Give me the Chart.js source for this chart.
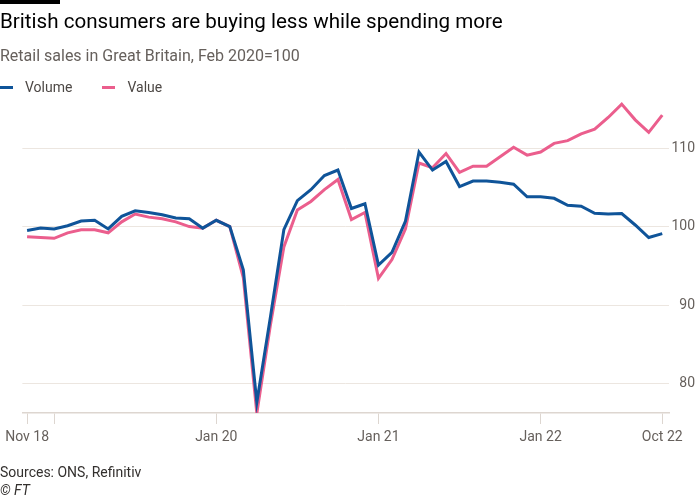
<!DOCTYPE html>
<html>
<head>
<meta charset="utf-8">
<script src="https://cdn.jsdelivr.net/npm/chart.js@4"></script>
<style>
  body { margin: 0; background: #fff; font-family: Roboto, "Liberation Sans", sans-serif; }
  #wrap { position: relative; width: 700px; height: 500px; overflow: hidden; }
  #bar { position: absolute; left: 0; top: 0; width: 60px; height: 4px; background: #000; }
  .txt { position: absolute; left: 0; white-space: nowrap; }
  #title { top: 9px; font-size: 20.6px; color: #000; }
  #sub { top: 46px; font-size: 16px; color: #66605c; }
  #legend { top: 79px; font-size: 14px; color: #4d4845; }
  #legend span.sw { display: inline-block; width: 13px; height: 3px; vertical-align: middle; margin-right: 12px; position: relative; top: -1px; }
  #legend span.it { margin-right: 30px; }
  #src { top: 464px; font-size: 14px; color: #33302e; }
  #ft { top: 482px; font-size: 14px; color: #33302e; font-style: italic; }
  canvas { position: absolute; left: 0; top: 0; }
</style>
</head>
<body>
<div id="wrap">
  <canvas id="chartRetail" width="700" height="500"></canvas>
  <div id="bar"></div>
  <div class="txt" id="title">British consumers are buying less while spending more</div>
  <div class="txt" id="sub">Retail sales in Great Britain, Feb 2020=100</div>
  <div class="txt" id="legend"><span class="sw" style="background:#0f5499"></span><span class="it">Volume</span><span class="sw" style="background:#eb5e8d"></span><span>Value</span></div>
  <div class="txt" id="src">Sources: ONS, Refinitiv</div>
  <div class="txt" id="ft">© FT</div>
</div>
<script>
// monthly, Nov 2018 .. Oct 2022
const months = [
    '2018-11', '2018-12',
    '2019-01', '2019-02', '2019-03', '2019-04', '2019-05', '2019-06', '2019-07', '2019-08', '2019-09', '2019-10', '2019-11', '2019-12',
    '2020-01', '2020-02', '2020-03', '2020-04', '2020-05', '2020-06', '2020-07', '2020-08', '2020-09', '2020-10', '2020-11', '2020-12',
    '2021-01', '2021-02', '2021-03', '2021-04', '2021-05', '2021-06', '2021-07', '2021-08', '2021-09', '2021-10', '2021-11', '2021-12',
    '2022-01', '2022-02', '2022-03', '2022-04', '2022-05', '2022-06', '2022-07', '2022-08', '2022-09', '2022-10'
];

const volume = [
    99.5, 99.8,
    99.7, 100.1, 100.7, 100.8, 99.7, 101.3, 102.0, 101.8, 101.5, 101.1, 101.0, 99.8,
    100.8, 100.0, 94.5, 77.6, 88.4, 99.6, 103.3, 104.7, 106.5, 107.2, 102.3, 102.9,
    95.1, 96.7, 100.7, 109.5, 107.2, 108.3, 105.1, 105.8, 105.8, 105.65, 105.4, 103.8,
    103.8, 103.6, 102.7, 102.6, 101.7, 101.6, 101.65, 100.2, 98.6, 99.1
];

const value = [
    98.7, 98.6,
    98.5, 99.2, 99.6, 99.6, 99.2, 100.6, 101.6, 101.2, 101.0, 100.6, 100.0, 99.8,
    100.8, 100.0, 93.5, 76.2, 87.4, 97.4, 102.1, 103.2, 104.7, 106.0, 100.9, 101.8,
    93.4, 95.8, 99.7, 108.1, 107.5, 109.3, 106.9, 107.7, 107.7, 108.9, 110.1, 109.1,
    109.5, 110.6, 110.95, 111.8, 112.4, 113.9, 115.6, 113.6, 112.0, 114.2
];

const tickPositions = [0, 2, 14, 26, 38, 47];
const tickLabels = ['Nov 18', '', 'Jan 20', 'Jan 21', 'Jan 22', 'Oct 22'];
const yTicks = [80, 90, 100, 110];

const toPoints = (arr) => arr.map((v, i) => ({ x: i, y: v }));

const context = document.getElementById('chartRetail').getContext('2d');

const chartRetail = new Chart(context, {
    type: 'line',
    data: {
        labels: months,
        datasets: [
            {
                label: 'Volume',
                data: toPoints(volume),
                borderColor: '#0f5499',
                borderWidth: 3,
                pointRadius: 0,
                tension: 0
            },
            {
                label: 'Value',
                data: toPoints(value),
                borderColor: '#eb5e8d',
                borderWidth: 3,
                pointRadius: 0,
                tension: 0
            }
        ]
    },
    options: {
        responsive: false,
        animation: false,
        layout: { padding: { left: 22, right: 5, top: 101, bottom: 47 } },
        plugins: { legend: { display: false }, tooltip: { enabled: false } },
        scales: {
            x: {
                type: 'linear',
                min: -0.35,
                max: 47.5,
                afterBuildTicks: (axis) => { axis.ticks = tickPositions.map(v => ({ value: v })); },
                afterFit: (scale) => { scale.height = 40; },
                ticks: {
                    autoSkip: false,
                    maxRotation: 0,
                    padding: 5,
                    color: '#66605c',
                    font: { family: 'Roboto', size: 14 },
                    callback: (v) => tickLabels[tickPositions.indexOf(v)]
                },
                grid: { drawOnChartArea: false, drawTicks: true, tickLength: 11, color: '#ddd6d0' },
                border: { display: true, color: '#ddd6d0', width: 1.5 }
            },
            y: {
                position: 'right',
                min: 76.24,
                max: 116,
                afterBuildTicks: (axis) => { axis.ticks = yTicks.map(v => ({ value: v })); },
                afterFit: (scale) => { scale.width = 26; },
                ticks: {
                    crossAlign: 'far',
                    padding: 0,
                    color: '#66605c',
                    font: { family: 'Roboto', size: 14 }
                },
                grid: { color: '#ece6e0', drawTicks: false },
                border: { display: false }
            }
        }
    }
});
</script>
</body>
</html>
